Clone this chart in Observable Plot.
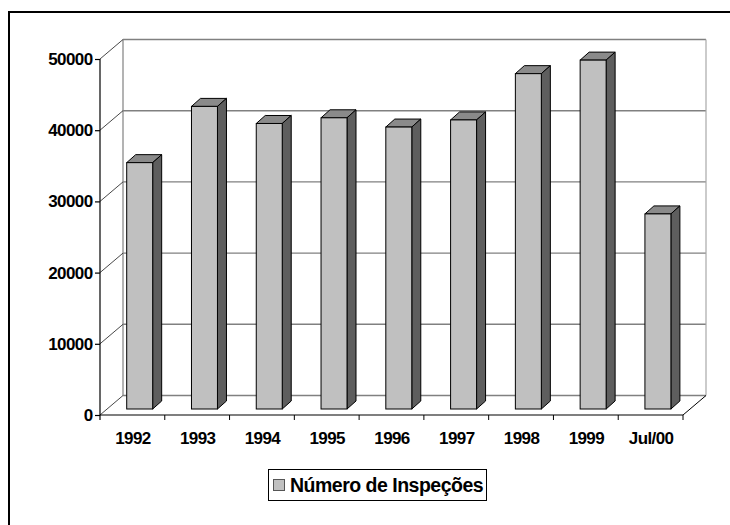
<!DOCTYPE html>
<html>
<head>
<meta charset="utf-8">
<script src="https://cdn.jsdelivr.net/npm/d3@7"></script>
<script src="https://cdn.jsdelivr.net/npm/@observablehq/plot@0.6"></script>
<style>
  body { margin: 0; background: #fff; font-family: "Liberation Sans", Arial, sans-serif; }
  #wrap { position: relative; width: 730px; height: 525px; overflow: hidden; background: #fff; }
  #frame { position: absolute; left: 8px; top: 11px; width: 900px; height: 900px;
           border-top: 2px solid #000; border-left: 2px solid #000; }
  #chart { position: absolute; left: 0; top: 0; }
  #chart svg text { letter-spacing: -0.6px; }
  #legend { position: absolute; left: 268px; top: 469px; width: 217px; height: 30px;
            border: 1.3px solid #000; display: flex; align-items: center; background: #fff;
            font-weight: bold; font-size: 19.5px; letter-spacing: -0.5px; color: #000; white-space: nowrap; }
  #legend .sw { width: 10px; height: 10px; background: #c0c0c0; border: 1px solid #555;
                margin: 0 5px 0 4px; flex: none; }
</style>
</head>
<body>
<div id="wrap">
  <div id="frame"></div>
  <div id="chart"></div>
  <div id="legend"><span class="sw"></span><span id="legendText"></span></div>
</div>
<script>
// ---- data ----
const categories = ["1992", "1993", "1994", "1995", "1996", "1997", "1998", "1999", "Jul/00"];
const values = [34600, 42500, 40100, 40900, 39600, 40600, 47100, 49000, 27400];
const yTicks = [0, 10000, 20000, 30000, 40000, 50000];
const seriesName = "Número de Inspeções";

const data = categories.map((c, i) => ({cat: c, value: values[i]}));

// ---- 3D look (styles, in px) ----
const WALL = [23, -19.5];   // back wall depth offset
const FRONT = [7.3, -6];    // bar front plane offset
const DEPTH = [9, -8];      // bar depth
const INSET = 19.4;         // bar inset inside band
const FRONT_FILL = "#c0c0c0", TOP_FILL = "#8a8a8a", SIDE_FILL = "#5e5e5e";

function scene(index, scales) {
  const x = scales.x, y = scales.y;
  const bw = typeof x.bandwidth === "function" ? x.bandwidth() : x.bandwidth;
  const [xl, xr] = x.range();
  const y0 = y(0), yTop = y(d3.max(yTicks));
  const [wx, wy] = WALL;
  const g = d3.create("svg:g");

  // back wall gridlines
  g.append("g").selectAll("line").data(yTicks).join("line")
    .attr("x1", xl + wx).attr("x2", xr + wx)
    .attr("y1", d => y(d) + wy).attr("y2", d => y(d) + wy)
    .attr("stroke", "#808080").attr("stroke-width", 1.4);
  // wall edges
  g.append("line").attr("x1", xl + wx).attr("x2", xl + wx).attr("y1", yTop + wy).attr("y2", y0 + wy)
    .attr("stroke", "#808080").attr("stroke-width", 1.2);
  g.append("line").attr("x1", xr + wx).attr("x2", xr + wx).attr("y1", yTop + wy).attr("y2", y0 + wy)
    .attr("stroke", "#a8a8a8").attr("stroke-width", 1.2);
  // side-wall diagonals from the y ticks
  g.append("g").selectAll("line").data(yTicks).join("line")
    .attr("x1", xl).attr("x2", xl + wx)
    .attr("y1", d => y(d)).attr("y2", d => y(d) + wy)
    .attr("stroke", "#333").attr("stroke-width", 0.9);
  // floor right diagonal
  g.append("line").attr("x1", xr).attr("x2", xr + wx).attr("y1", y0).attr("y2", y0 + wy)
    .attr("stroke", "#000").attr("stroke-width", 1);
  // floor front edge (x axis)
  g.append("line").attr("x1", xl).attr("x2", xr).attr("y1", y0).attr("y2", y0)
    .attr("stroke", "#000").attr("stroke-width", 1.2);
  // y axis line
  g.append("line").attr("x1", xl).attr("x2", xl).attr("y1", yTop).attr("y2", y0 + 5)
    .attr("stroke", "#000").attr("stroke-width", 1.2);
  // category boundary ticks
  const bounds = categories.map(c => x(c) + bw);
  g.append("g").selectAll("line").data(bounds).join("line")
    .attr("x1", d => d).attr("x2", d => d).attr("y1", y0).attr("y2", y0 + 5)
    .attr("stroke", "#000").attr("stroke-width", 1);

  // bars: top and side faces
  const [dx, dy] = DEPTH;
  const bars = g.append("g").attr("stroke", "#000").attr("stroke-width", 1).attr("stroke-linejoin", "round");
  for (const d of data) {
    const fx1 = x(d.cat) + INSET + FRONT[0];
    const fx2 = x(d.cat) + bw - INSET + FRONT[0];
    const ft = y(d.value) + FRONT[1];
    const fb = y0 + FRONT[1];
    bars.append("path").attr("fill", TOP_FILL)
      .attr("d", `M${fx1},${ft}L${fx2},${ft}L${fx2 + dx},${ft + dy}L${fx1 + dx},${ft + dy}Z`);
    bars.append("path").attr("fill", SIDE_FILL)
      .attr("d", `M${fx2},${ft}L${fx2},${fb}L${fx2 + dx},${fb + dy}L${fx2 + dx},${ft + dy}Z`);
  }
  return g.node();
}

const chart = Plot.plot({
  width: 730,
  height: 460,
  marginLeft: 100,
  marginRight: 47,
  marginTop: 59,
  marginBottom: 45,
  x: {type: "band", domain: categories, padding: 0, round: false, label: null},
  y: {domain: [0, 50000], label: null},
  style: {fontFamily: "'Liberation Sans', Arial, sans-serif", fontSize: "17px", fontWeight: "bold",
          color: "#000", background: "transparent", overflow: "visible"},
  marks: [
    scene,
    Plot.barY(data, {x: "cat", y: "value", fill: FRONT_FILL, stroke: "#000", strokeWidth: 1,
                     insetLeft: INSET, insetRight: INSET, dx: FRONT[0], dy: FRONT[1]}),
    Plot.axisY({ticks: yTicks, tickSize: 5, tickPadding: 3, tickFormat: d => String(d), label: null,
                fontSize: 17, fontWeight: "bold", strokeWidth: 1.2}),
    Plot.axisX({tickSize: 0, tickPadding: 16, label: null, fontSize: 17, fontWeight: "bold"})
  ]
});
document.getElementById("chart").appendChild(chart);
document.getElementById("legendText").textContent = seriesName;
</script>
</body>
</html>
